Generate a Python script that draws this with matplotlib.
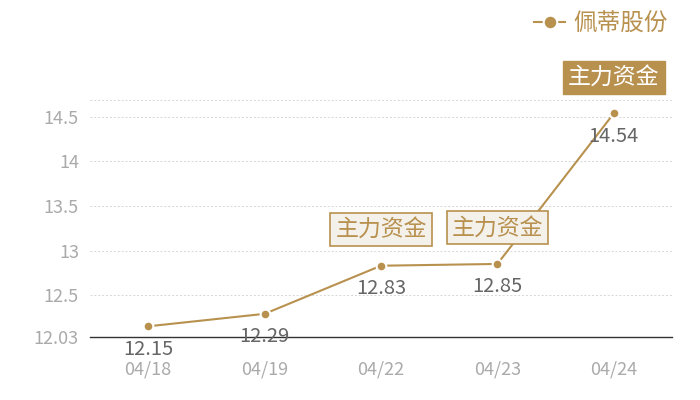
import matplotlib
matplotlib.use("Agg")
import matplotlib.pyplot as plt

plt.rcParams['font.family'] = ['Noto Sans CJK SC', 'DejaVu Sans']

dates = ["04/18", "04/19", "04/22", "04/23", "04/24"]
prices = [12.15, 12.29, 12.83, 12.85, 14.54]
series_name = "佩蒂股份"
flag_text = "主力资金"
flag_idx = [2, 3, 4]
flag_filled = [False, False, True]
yticks = [12.03, 12.5, 13, 13.5, 14, 14.5]
ytick_labels = ["12.03", "12.5", "13", "13.5", "14", "14.5"]
ymin, ymax = 12.03, 14.69

gold = "#b8914f"
fig = plt.figure(figsize=(7, 4), dpi=100)
ax = fig.add_axes([90/700, 1-337/400, 582/700, (337-100)/400])

x = list(range(len(dates)))
ax.plot(x, prices, color=gold, lw=1.5, marker='o', ms=7, mfc=gold,
        mec='white', mew=1.5, label=series_name, zorder=3)

ax.set_xlim(-0.5, len(dates)-0.5)
ax.set_ylim(ymin, ymax)
ax.set_xticks(x)
ax.set_xticklabels(dates)
ax.set_yticks(yticks)
ax.set_yticklabels(ytick_labels)
ax.tick_params(axis='both', length=0, labelsize=13, colors="#aaaaaa")
ax.tick_params(axis='x', pad=17)
ax.tick_params(axis='y', pad=8)
for s in ['top', 'right', 'left']:
    ax.spines[s].set_visible(False)
ax.spines['bottom'].set_color("#333333")
ax.spines['bottom'].set_linewidth(1)

for yv in yticks[1:] + [ymax]:
    ax.axhline(yv, color="#d6d6d6", lw=0.7, ls=(0, (2, 2)), zorder=1)

for xi, v in zip(x, prices):
    ax.annotate(f"{v:.2f}", (xi, v), xytext=(0, -16.5), textcoords='offset points',
                ha='center', va='center', fontsize=14.5, color="#666666", zorder=4)

for idx, filled in zip(flag_idx, flag_filled):
    if filled:
        bbox = dict(boxstyle='square,pad=0.22', fc=gold, ec=gold, lw=1)
        tc = 'white'
    else:
        bbox = dict(boxstyle='square,pad=0.22', fc="#f4f0ea", ec=gold, lw=1.2)
        tc = gold
    ax.annotate(flag_text, (idx, prices[idx]), xytext=(0, 26), textcoords='offset points',
                ha='center', va='center', fontsize=16.5, color=tc, bbox=bbox, zorder=5)

leg = ax.legend(loc='upper right', bbox_to_anchor=(682/700, 1.005), bbox_transform=fig.transFigure,
                frameon=False, fontsize=17, handlelength=1.3, handletextpad=0.35,
                borderaxespad=0.2, markerscale=1.4)
for t in leg.get_texts():
    t.set_color(gold)

fig.savefig("out.png", dpi=100)
